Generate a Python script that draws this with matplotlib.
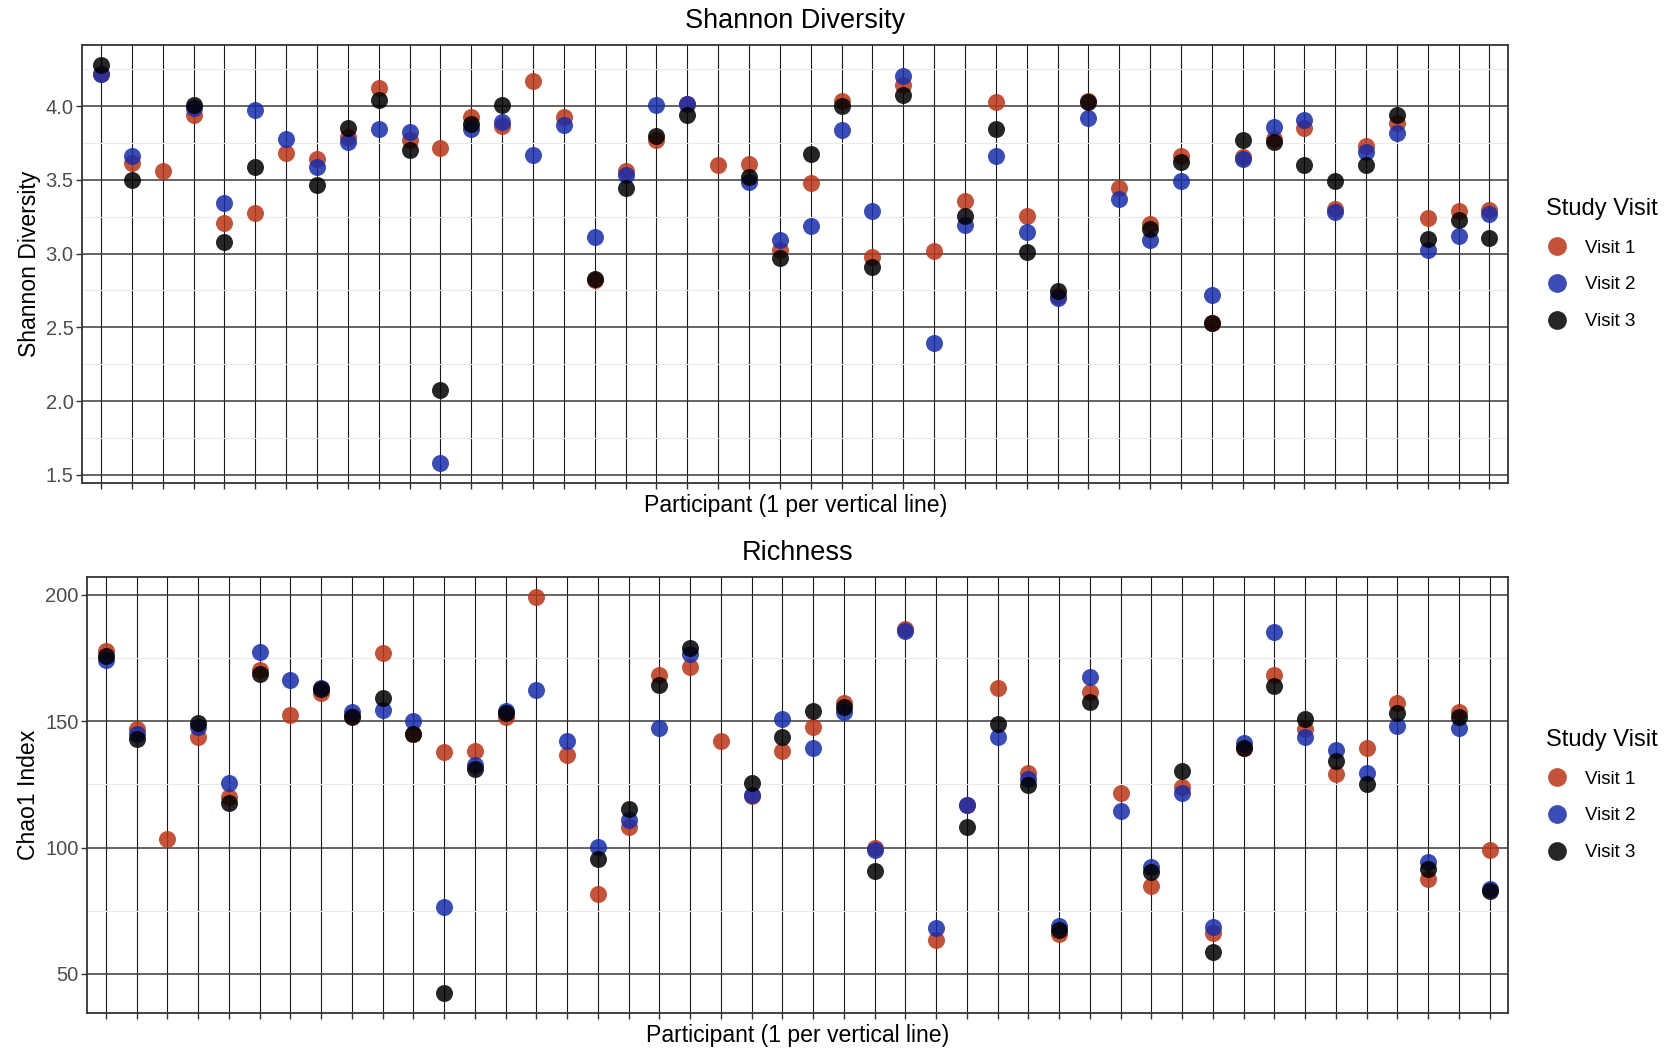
import matplotlib
matplotlib.use('Agg')
import matplotlib.pyplot as plt
import numpy as np
from matplotlib.lines import Line2D
from matplotlib.ticker import MultipleLocator

plt.rcParams['font.family'] = ['Liberation Sans', 'DejaVu Sans']

nan = np.nan

participants = list(range(1, 47))
visits = ['Visit 1', 'Visit 2', 'Visit 3']
colours = ['#BA3517', '#172DAB', '#000000']

# Shannon diversity, one list per study visit (nan = no sample)
shannon_v1 = [4.22, 3.615, 3.56, 3.94, 3.21, 3.275, 3.68, 3.64, 3.79, 4.125,
              3.774, 3.717, 3.928, 3.864, 4.174, 3.928, 2.82, 3.559, 3.774, 4.018,
              3.60, 3.606, 3.027, 3.48, 4.034, 2.977, 4.143, 3.02, 3.357, 4.027,
              3.253, 2.71, 4.034, 3.446, 3.204, 3.665, 2.529, 3.656, 3.778, 3.853,
              3.303, 3.729, 3.887, 3.242, 3.292, 3.299]
shannon_v2 = [4.215, 3.66, nan, 3.99, 3.34, 3.975, 3.78, 3.59, 3.76, 3.846,
              3.826, 1.579, 3.846, 3.89, 3.667, 3.869, 3.111, 3.536, 4.011, 4.012,
              nan, 3.484, 3.095, 3.19, 3.837, 3.29, 4.208, 2.394, 3.195, 3.66,
              3.147, 2.70, 3.921, 3.371, 3.09, 3.495, 2.719, 3.643, 3.857, 3.905,
              3.285, 3.69, 3.819, 3.027, 3.122, 3.271]
shannon_v3 = [4.28, 3.50, nan, 4.005, 3.08, 3.59, nan, 3.466, 3.85, 4.04,
              3.70, 2.077, 3.882, 4.005, nan, nan, 2.828, 3.446, 3.801, 3.943,
              nan, 3.518, 2.97, 3.679, 4.0, 2.91, 4.075, nan, 3.258, 3.846,
              3.009, 2.744, 4.027, nan, 3.167, 3.622, 2.532, 3.774, 3.756, 3.602,
              3.495, 3.60, 3.939, 3.10, 3.226, 3.106]

# Chao1 richness
chao1_v1 = [177.9, 147.1, 103.4, 143.8, 119.9, 170.1, 152.6, 161.2, 152.1, 177.0,
            144.9, 137.9, 138.3, 151.7, 199.2, 136.6, 81.8, 108.1, 168.1, 171.4,
            142.3, 120.5, 138.2, 147.6, 157.2, 99.9, 186.5, 63.4, 116.9, 163.3,
            129.4, 65.7, 161.5, 121.5, 84.8, 123.9, 66.1, 139.2, 168.4, 146.9,
            129.1, 139.2, 157.2, 87.4, 153.7, 99.2]
chao1_v2 = [174.4, 145.1, nan, 147.8, 125.7, 177.4, 166.4, 163.1, 153.7, 154.3,
            150.0, 76.5, 132.5, 154.1, 162.3, 142.0, 100.3, 111.0, 147.4, 176.6,
            nan, 120.9, 150.7, 139.2, 153.7, 99.2, 185.8, 68.0, 116.9, 143.8,
            127.0, 69.0, 167.5, 114.6, 92.3, 121.5, 68.6, 141.2, 185.4, 143.8,
            138.6, 129.4, 148.2, 94.2, 147.5, 83.5]
chao1_v3 = [175.7, 142.9, nan, 149.1, 117.6, 168.5, nan, 162.6, 151.7, 159.2,
            144.9, 42.4, 131.2, 153.4, nan, nan, 95.3, 115.2, 164.3, 179.0,
            nan, 125.6, 143.7, 154.2, 155.6, 90.7, nan, nan, 108.1, 148.7,
            124.8, 67.5, 157.6, nan, 90.4, 130.3, 58.5, 139.2, 163.9, 151.0,
            134.4, 125.1, 153.4, 91.6, 151.7, 82.8]

W, H = 1665, 1048


def panel(fig, rect, series, title, ylabel, step, fmt):
    ax = fig.add_axes([rect[0] / W, 1 - rect[3] / H,
                       (rect[2] - rect[0]) / W, (rect[3] - rect[1]) / H])
    x = np.arange(len(participants))
    for vals, col, lab in zip(series, colours, visits):
        ax.scatter(x, vals, s=150, color=col, alpha=0.85, linewidths=0,
                   zorder=3, label=lab)

    allv = np.concatenate([np.asarray(v, dtype=float) for v in series])
    lo, hi = np.nanmin(allv), np.nanmax(allv)
    pad = 0.05 * (hi - lo)
    ax.set_ylim(lo - pad, hi + pad)
    ax.set_xlim(-0.6, len(participants) - 0.4)

    ax.set_xticks(x)
    ax.set_xticklabels([])
    ax.yaxis.set_major_locator(MultipleLocator(step))
    ax.yaxis.set_minor_locator(MultipleLocator(step / 2))
    ax.yaxis.set_major_formatter(fmt)

    ax.set_axisbelow(True)
    ax.grid(which='major', axis='x', color='#1a1a1a', lw=0.8)
    ax.grid(which='major', axis='y', color='#3a3a3a', lw=1.1)
    ax.grid(which='minor', axis='y', color='#ebebeb', lw=0.8)

    ax.tick_params(axis='both', which='major', length=4, width=1.0,
                   color='#333333', labelsize=14.5, labelcolor='#4d4d4d', pad=2.5)
    ax.tick_params(axis='y', which='minor', length=0)
    for sp in ax.spines.values():
        sp.set_color('#333333')
        sp.set_linewidth(1.3)

    ax.set_title(title, fontsize=19.5, pad=12.5)
    ax.set_xlabel('Participant (1 per vertical line)', fontsize=16.6, labelpad=1.5)
    ax.set_ylabel(ylabel, fontsize=16.6, labelpad=3.5)

    handles = [Line2D([], [], marker='o', ls='', markersize=13.5, color=c,
                      alpha=0.85, markeredgewidth=0) for c in colours]
    ax.legend(handles, visits, title='Study Visit', loc='center left',
              bbox_to_anchor=(1.02, 0.5), frameon=False, fontsize=13.5,
              title_fontsize=17, borderpad=0, handletextpad=0.9,
              labelspacing=1.05, handlelength=1.2, alignment='left')
    return ax


fig = plt.figure(figsize=(W / 100, H / 100), dpi=100)

panel(fig, (82.5, 45, 1508, 483), [shannon_v1, shannon_v2, shannon_v3],
      'Shannon Diversity', 'Shannon Diversity', 0.5, '{x:.1f}')
panel(fig, (87.5, 577, 1508, 1013), [chao1_v1, chao1_v2, chao1_v3],
      'Richness', 'Chao1 Index', 50, '{x:.0f}')

fig.savefig('out.png', dpi=100)
